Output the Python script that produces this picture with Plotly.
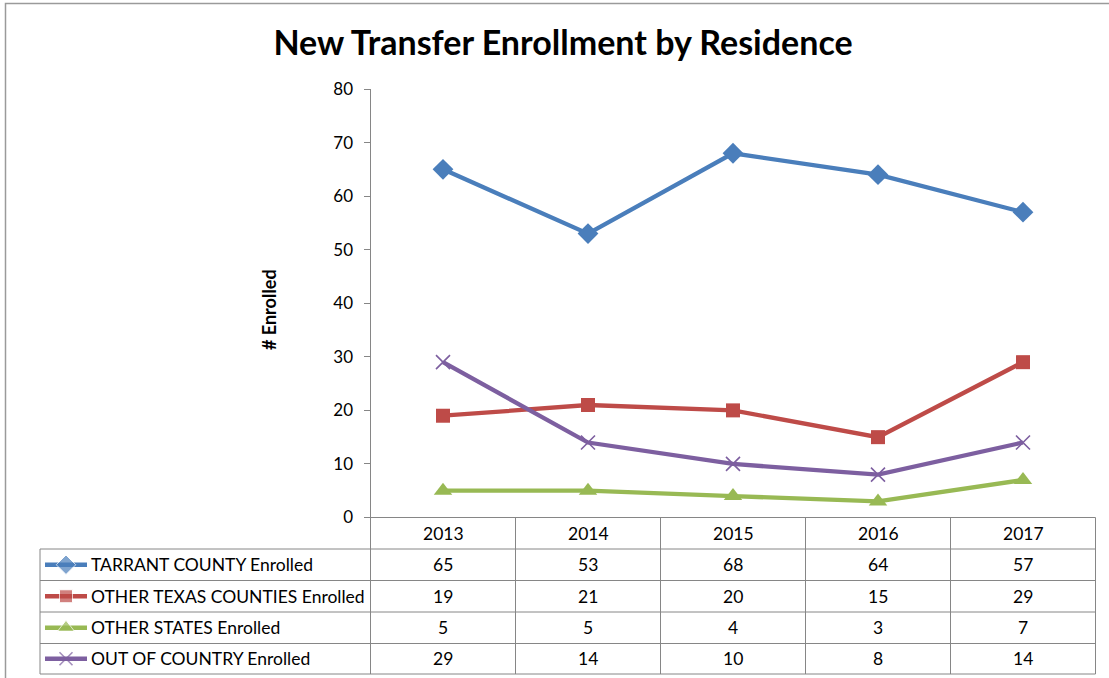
import plotly.graph_objects as go

# ---------------- data ----------------
years = ["2013", "2014", "2015", "2016", "2017"]
series_names = [
    "TARRANT COUNTY Enrolled",
    "OTHER TEXAS COUNTIES Enrolled",
    "OTHER STATES Enrolled",
    "OUT OF COUNTRY Enrolled",
]
tarrant = [65, 53, 68, 64, 57]
other_texas = [19, 21, 20, 15, 29]
other_states = [5, 5, 4, 3, 7]
out_of_country = [29, 14, 10, 8, 14]
y_ticks = [0, 10, 20, 30, 40, 50, 60, 70, 80]

series_values = [tarrant, other_texas, other_states, out_of_country]

# ---------------- styles ----------------
W, H = 1109, 678
FONT = "Lato"
colors = ["#4A7EBB", "#BE4B48", "#98B954", "#7D5FA0"]
symbols = ["diamond", "square", "triangle-up", "x-thin"]
msizes = [16, 14, 16, 14]
LINE_W = 4.3
GRID = "#868686"


def fx(px):
    return px / W


def fy(py):
    return 1 - py / H


plot_l, plot_r = 370.5, 1095.5
plot_t, plot_b = 89, 517.5
row_lines = [517.5, 549, 580.5, 612, 643.5, 674]

fig = go.Figure()

for name, vals, c, s, ms in zip(series_names, series_values, colors, symbols, msizes):
    marker = dict(symbol=s, size=ms, color=c)
    if s == "x-thin":
        marker = dict(symbol=s, size=ms, color=c, line=dict(color=c, width=1.6))
    fig.add_trace(go.Scatter(
        x=list(range(len(years))), y=vals, mode="lines+markers", name=name,
        line=dict(color=c, width=LINE_W), marker=marker, showlegend=False,
        cliponaxis=False, xaxis="x", yaxis="y"))

# legend keys in the data table (pixel-space helper axis)
for i, (c, s, ms) in enumerate(zip(colors, symbols, msizes)):
    cy = (row_lines[i + 1] + row_lines[i + 2]) / 2
    marker = dict(symbol=s, size=[0, ms - 1, 0], color=c)
    if s == "x-thin":
        marker["line"] = dict(color=c, width=1.6)
    fig.add_trace(go.Scatter(
        x=[45, 66, 87], y=[cy, cy, cy], mode="lines+markers",
        line=dict(color=c, width=LINE_W), marker=marker, showlegend=False,
        hoverinfo="skip", xaxis="x2", yaxis="y2"))

shapes = []
line_style = dict(color=GRID, width=1)
# outer chart border
shapes.append(dict(type="rect", xref="paper", yref="paper",
                   x0=fx(5.5), x1=fx(1125), y0=fy(3.5), y1=fy(700),
                   line=dict(color="#9A9A9A", width=1.5)))
# vertical line through axis and table
shapes.append(dict(type="line", xref="paper", yref="paper",
                   x0=fx(plot_l), x1=fx(plot_l), y0=fy(plot_t), y1=fy(row_lines[-1]),
                   line=line_style))
# column separators
col_w = (plot_r - plot_l) / len(years)
for k in range(1, len(years) + 1):
    xx = plot_l + k * col_w
    shapes.append(dict(type="line", xref="paper", yref="paper",
                       x0=fx(xx), x1=fx(xx), y0=fy(row_lines[0]), y1=fy(row_lines[-1]),
                       line=line_style))
# horizontal lines
for j, ry in enumerate(row_lines):
    x0 = plot_l if j == 0 else 40
    shapes.append(dict(type="line", xref="paper", yref="paper",
                       x0=fx(x0), x1=fx(plot_r), y0=fy(ry), y1=fy(ry),
                       line=line_style))
# left border of legend column
shapes.append(dict(type="line", xref="paper", yref="paper",
                   x0=fx(40), x1=fx(40), y0=fy(row_lines[1]), y1=fy(row_lines[-1]),
                   line=line_style))

annotations = []
cell_font = dict(family=FONT, size=17.5, color="#000000")
# header years
for i, yr in enumerate(years):
    annotations.append(dict(x=i, y=fy((row_lines[0] + row_lines[1]) / 2), xref="x", yref="paper",
                            text=yr, showarrow=False, font=cell_font,
                            xanchor="center", yanchor="middle"))
# values
for r, (name, vals) in enumerate(zip(series_names, series_values)):
    cy = (row_lines[r + 1] + row_lines[r + 2]) / 2
    annotations.append(dict(x=fx(89), y=fy(cy), xref="paper", yref="paper",
                            text=name, showarrow=False, font=cell_font,
                            xanchor="left", yanchor="middle"))
    for i, v in enumerate(vals):
        annotations.append(dict(x=i, y=fy(cy), xref="x", yref="paper",
                                text=str(v), showarrow=False, font=cell_font,
                                xanchor="center", yanchor="middle"))
# y-axis title
annotations.append(dict(x=fx(269), y=fy(310), xref="paper", yref="paper",
                        text="<b># Enrolled</b>", textangle=-90, showarrow=False,
                        font=dict(family=FONT, size=18, color="#000000"),
                        xanchor="center", yanchor="middle"))

fig.update_layout(
    template="none",
    width=W, height=H, autosize=False,
    margin=dict(l=0, r=0, t=0, b=0, pad=0),
    paper_bgcolor="white", plot_bgcolor="rgba(0,0,0,0)",
    font=dict(family=FONT, color="#000000"),
    title=dict(text="<b>New Transfer Enrollment by Residence</b>",
               x=fx(563), y=fy(43), xref="paper", yref="paper",
               xanchor="center", yanchor="middle", automargin=False,
               font=dict(family=FONT, size=34, color="#000000")),
    xaxis=dict(domain=[fx(plot_l), fx(plot_r)], range=[-0.5, len(years) - 0.5],
               showticklabels=False, showgrid=False, zeroline=False,
               showline=False, ticks="", automargin=False),
    yaxis=dict(domain=[fy(plot_b), fy(plot_t)], range=[0, 80],
               tickvals=y_ticks, showgrid=False, zeroline=False,
               showline=True, linecolor=GRID, linewidth=1,
               ticks="outside", ticklen=6, tickcolor=GRID,
               ticklabelstandoff=7, automargin=False,
               tickfont=dict(family=FONT, size=17, color="#000000")),
    xaxis2=dict(domain=[0, 1], range=[0, W], visible=False, anchor="y2",
                automargin=False),
    yaxis2=dict(domain=[0, 1], range=[H, 0], visible=False, anchor="x2",
                automargin=False),
    shapes=shapes,
    annotations=annotations,
)

fig.write_html(
    "out.html",
    config={"displayModeBar": False},
    post_script=(
        "document.documentElement.style.margin='0';"
        "document.body.style.margin='0';"
        "document.body.style.overflow='hidden';"
        "var gd=document.getElementById('{plot_id}');"
        "gd.style.position='fixed';gd.style.top='0px';gd.style.left='0px';"
    ),
)
